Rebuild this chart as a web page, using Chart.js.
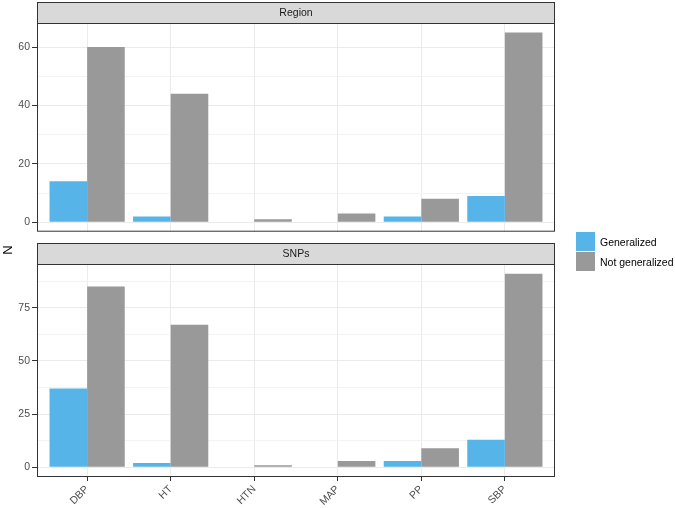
<!DOCTYPE html>
<html>
<head>
<meta charset="utf-8">
<script src="https://cdn.jsdelivr.net/npm/chart.js@4/dist/chart.umd.min.js"></script>
<style>
  html, body { margin: 0; padding: 0; background: #ffffff; }
  body { width: 675px; height: 508px; position: relative; overflow: hidden;
         font-family: "Liberation Sans", Arial, Helvetica, sans-serif; }
  #c1 { position: absolute; left: 0; top: 0; }
  #c2 { position: absolute; left: 0; top: 240px; }
  #ylab { position: absolute; left: -2px; top: 240px; width: 20px; height: 20px;
          line-height: 20px; text-align: center; font-size: 13px; color: #000;
          transform: rotate(-90deg); }
  .key { position: absolute; left: 576px; width: 19px; height: 19px; }
  .ktext { position: absolute; left: 600px; font-size: 10.5px; color: #000; line-height: 20px; white-space: nowrap; }
</style>
</head>
<body>
<canvas id="c1" width="675" height="240" style="width:675px;height:240px"></canvas>
<canvas id="c2" width="675" height="268" style="width:675px;height:268px"></canvas>
<div id="ylab">N</div>
<div id="legend"></div>
<script>
// ---- data ----
const categories = ['DBP', 'HT', 'HTN', 'MAP', 'PP', 'SBP'];
const seriesNames = ['Generalized', 'Not generalized'];
const seriesColors = ['#56B4E9', '#999999'];
const panelTitles = ['Region', 'SNPs'];

const regionGeneralized    = [14, 2, 0, 0, 2, 9];
const regionNotGeneralized = [60, 44, 1, 3, 8, 65];
const snpsGeneralized      = [37, 2, 0, 0, 3, 13];
const snpsNotGeneralized   = [85, 67, 1, 3, 9, 91];

const regionMajorTicks = [0, 20, 40, 60];
const regionMinorTicks = [10, 30, 50];
const snpsMajorTicks   = [0, 25, 50, 75];
const snpsMinorTicks   = [12.5, 37.5, 62.5, 87.5];

const FONT = '"Liberation Sans", Arial, Helvetica, sans-serif';

// ---- panel (border + strip) plugin ----
const panelPlugin = {
  id: 'panel',
  afterDraw(chart, args, opts) {
    const { ctx, chartArea: a } = chart;
    ctx.save();
    ctx.strokeStyle = '#333333';
    ctx.lineWidth = 1;
    ctx.strokeRect(a.left + 0.5, a.top + 0.5, a.right - a.left - 1, a.bottom - a.top - 1);
    const st = opts.stripTop;
    ctx.fillStyle = '#D9D9D9';
    ctx.fillRect(a.left, st, a.right - a.left, a.top - st);
    ctx.strokeRect(a.left + 0.5, st + 0.5, a.right - a.left - 1, a.top - st);
    ctx.fillStyle = '#1A1A1A';
    ctx.font = '10.5px ' + FONT;
    ctx.textAlign = 'center';
    ctx.textBaseline = 'middle';
    ctx.fillText(opts.title, (a.left + a.right) / 2, (st + a.top) / 2 + 1);
    ctx.restore();
  }
};

function makeChart(canvasId, title, gVals, ngVals, major, minor, cfg) {
  const maxV = Math.max(...gVals, ...ngVals);
  const pts = (vals) => vals.map((v, i) => ({ x: i + 1, y: v }));
  const allTicks = [...major, ...minor].sort((p, q) => p - q);
  return new Chart(document.getElementById(canvasId), {
    type: 'bar',
    data: {
      datasets: [
        { label: seriesNames[0], data: pts(gVals), backgroundColor: seriesColors[0], borderWidth: 0 },
        { label: seriesNames[1], data: pts(ngVals), backgroundColor: seriesColors[1], borderWidth: 0 }
      ]
    },
    plugins: [panelPlugin],
    options: {
      responsive: false,
      animation: false,
      events: [],
      categoryPercentage: 0.9,
      barPercentage: 1.0,
      layout: { padding: { top: cfg.top, right: 120, bottom: cfg.bottom, left: 0 } },
      plugins: {
        legend: { display: false },
        tooltip: { enabled: false },
        panel: { title: title, stripTop: cfg.stripTop }
      },
      scales: {
        x: {
          type: 'linear',
          offset: false,
          min: 0.4,
          max: categories.length + 0.6,
          afterBuildTicks(s) { s.ticks = categories.map((c, i) => ({ value: i + 1 })); },
          afterFit(s) { s.height = cfg.xHeight; },
          border: { display: false },
          grid: { color: '#EBEBEB', lineWidth: 1, offset: false, drawTicks: cfg.showX,
                  tickLength: 4, tickColor: '#333333' },
          ticks: {
            display: cfg.showX, autoSkip: false, minRotation: 45, maxRotation: 45, padding: 2,
            color: '#4D4D4D', font: { size: 10.5, family: FONT },
            callback: (v) => categories[Math.round(v) - 1]
          }
        },
        y: {
          min: -0.05 * maxV,
          max: 1.05 * maxV,
          afterBuildTicks(s) { s.ticks = allTicks.map(v => ({ value: v })); },
          afterFit(s) { s.width = 37; },
          border: { display: false },
          grid: {
            color: (c) => major.includes(c.tick.value) ? '#EBEBEB' : '#F3F3F3',
            lineWidth: 1,
            drawTicks: true,
            tickLength: 5,
            tickColor: (c) => major.includes(c.tick.value) ? '#333333' : 'rgba(0,0,0,0)'
          },
          ticks: {
            autoSkip: false, padding: 2, color: '#4D4D4D', font: { size: 10.5, family: FONT },
            callback: (v) => major.includes(v) ? String(v) : ''
          }
        }
      }
    }
  });
}

makeChart('c1', panelTitles[0], regionGeneralized, regionNotGeneralized,
          regionMajorTicks, regionMinorTicks,
          { top: 23, bottom: 5, xHeight: 0, showX: false, stripTop: 2 });
makeChart('c2', panelTitles[1], snpsGeneralized, snpsNotGeneralized,
          snpsMajorTicks, snpsMinorTicks,
          { top: 24, bottom: 0, xHeight: 31, showX: true, stripTop: 3 });

// ---- legend ----
const legend = document.getElementById('legend');
seriesNames.forEach((name, i) => {
  const k = document.createElement('div');
  k.className = 'key';
  k.style.top = (232 + i * 20) + 'px';
  k.style.background = seriesColors[i];
  legend.appendChild(k);
  const t = document.createElement('div');
  t.className = 'ktext';
  t.style.top = (232 + i * 20) + 'px';
  t.textContent = name;
  legend.appendChild(t);
});
</script>
</body>
</html>
